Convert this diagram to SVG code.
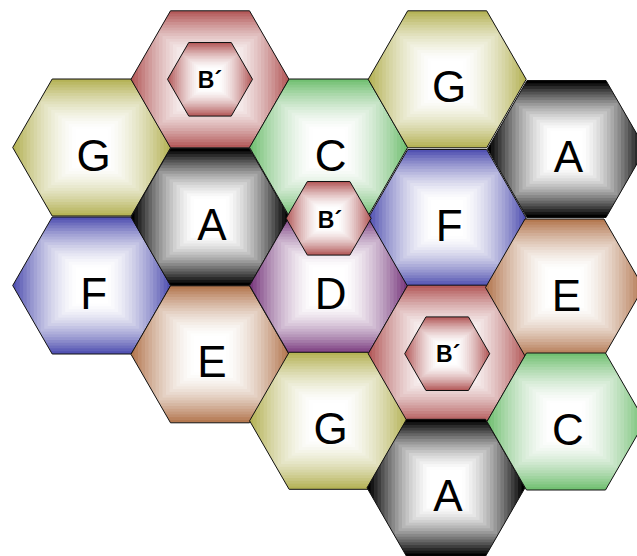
<svg xmlns="http://www.w3.org/2000/svg" width="637" height="556" viewBox="0 0 637 556">
<style>
.ol{fill:none;stroke:#111;stroke-width:1;}
.lbl{font-family:"Liberation Sans",Arial,sans-serif;font-size:44px;text-anchor:middle;fill:#000;}
.lblb{font-family:"Liberation Sans",Arial,sans-serif;font-size:23px;font-weight:bold;text-anchor:middle;fill:#000;}
.cA{fill:#000000;}
.cB{fill:#b45a5a;}
.cC{fill:#72c072;}
.cD{fill:#7a3a7e;}
.cE{fill:#b47850;}
.cF{fill:#5252b2;}
.cG{fill:#b5b357;}
</style>
<defs>
<polygon id="hexL" points="-79,0 -39.5,-68.5 39.5,-68.5 79,0 39.5,68.5 -39.5,68.5"/>
<polygon id="hexS" points="-42.5,0 -21.25,-36.8 21.25,-36.8 42.5,0 21.25,36.8 -21.25,36.8"/>
<clipPath id="clipL"><use href="#hexL"/></clipPath>
<clipPath id="clipS"><use href="#hexS"/></clipPath>
<g id="rings" fill="#ffffff">
<rect x="-75.5" y="-65.7" width="151" height="131.4" fill-opacity="0.0874"/>
<rect x="-72" y="-62.9" width="144" height="125.8" fill-opacity="0.0924"/>
<rect x="-68.5" y="-60.1" width="137" height="120.2" fill-opacity="0.0981"/>
<rect x="-65" y="-57.3" width="130" height="114.6" fill-opacity="0.1045"/>
<rect x="-61.5" y="-54.5" width="123" height="109" fill-opacity="0.1118"/>
<rect x="-58" y="-51.7" width="116" height="103.4" fill-opacity="0.1202"/>
<rect x="-54.5" y="-48.9" width="109" height="97.8" fill-opacity="0.13"/>
<rect x="-51" y="-46.1" width="102" height="92.2" fill-opacity="0.1414"/>
<rect x="-47.5" y="-43.3" width="95" height="86.6" fill-opacity="0.1551"/>
<rect x="-44" y="-40.5" width="88" height="81" fill-opacity="0.1718"/>
<rect x="-40.5" y="-37.7" width="81" height="75.4" fill-opacity="0.1924"/>
<rect x="-37" y="-34.9" width="74" height="69.8" fill-opacity="0.2186"/>
<rect x="-33.5" y="-32.1" width="67" height="64.2" fill-opacity="0.253"/>
<rect x="-30" y="-29.3" width="60" height="58.6" fill-opacity="0.3002"/>
<rect x="-26.5" y="-26.5" width="53" height="53" fill-opacity="0.3689"/>
<rect x="-23" y="-23.7" width="46" height="47.4" fill-opacity="0.4773"/>
<rect x="-19.5" y="-20.9" width="39" height="41.8" fill-opacity="0.6701"/>
<rect x="-16" y="-18.1" width="32" height="36.2" fill-opacity="1"/>
</g>
</defs>

<g id="connectors"/>

<g id="cell-G-1" transform="translate(91.7,147.5)">
<use href="#hexL" class="cG"/><g clip-path="url(#clipL)"><use href="#rings"/></g><use href="#hexL" class="ol"/>
<text class="lbl" x="2" y="23">G</text></g>

<g id="cell-F-1" transform="translate(91.7,285.5)">
<use href="#hexL" class="cF"/><g clip-path="url(#clipL)"><use href="#rings"/></g><use href="#hexL" class="ol"/>
<text class="lbl" x="2" y="23">F</text></g>

<g id="cell-B-1" transform="translate(210,79.3)">
<use href="#hexL" class="cB"/><g clip-path="url(#clipL)"><use href="#rings"/></g><use href="#hexL" class="ol"/>
<use href="#hexS" class="cB"/><g clip-path="url(#clipS)"><use href="#rings" transform="scale(0.538)"/></g><use href="#hexS" class="ol"/>
<text class="lblb" x="0" y="8.5">B´</text></g>

<g id="cell-A-1" transform="translate(210,217)">
<use href="#hexL" class="cA"/><g clip-path="url(#clipL)"><use href="#rings"/></g><use href="#hexL" class="ol"/>
<text class="lbl" x="2" y="23">A</text></g>

<g id="cell-E-1" transform="translate(210,354.3)">
<use href="#hexL" class="cE"/><g clip-path="url(#clipL)"><use href="#rings"/></g><use href="#hexL" class="ol"/>
<text class="lbl" x="2" y="23">E</text></g>

<g id="cell-C-1" transform="translate(328.6,147.5)">
<use href="#hexL" class="cC"/><g clip-path="url(#clipL)"><use href="#rings"/></g><use href="#hexL" class="ol"/>
<text class="lbl" x="2" y="23">C</text></g>

<g id="cell-D" transform="translate(328.6,285.5)">
<use href="#hexL" class="cD"/><g clip-path="url(#clipL)"><use href="#rings"/></g><use href="#hexL" class="ol"/>
<text class="lbl" x="2" y="23">D</text></g>

<g id="cell-G-2" transform="translate(328.6,420.8)">
<use href="#hexL" class="cG"/><g clip-path="url(#clipL)"><use href="#rings"/></g><use href="#hexL" class="ol"/>
<text class="lbl" x="2" y="23">G</text></g>

<g id="cell-G-3" transform="translate(447.2,79.3)">
<use href="#hexL" class="cG"/><g clip-path="url(#clipL)"><use href="#rings"/></g><use href="#hexL" class="ol"/>
<text class="lbl" x="2" y="23">G</text></g>

<g id="cell-F-2" transform="translate(447.2,218)">
<use href="#hexL" class="cF"/><g clip-path="url(#clipL)"><use href="#rings"/></g><use href="#hexL" class="ol"/>
<text class="lbl" x="2" y="23">F</text></g>

<g id="cell-B-2" transform="translate(447.2,353.7)">
<use href="#hexL" class="cB"/><g clip-path="url(#clipL)"><use href="#rings"/></g><use href="#hexL" class="ol"/>
<use href="#hexS" class="cB"/><g clip-path="url(#clipS)"><use href="#rings" transform="scale(0.538)"/></g><use href="#hexS" class="ol"/>
<text class="lblb" x="1" y="8.5">B´</text></g>

<g id="cell-A-3" transform="translate(446,487.8)">
<use href="#hexL" class="cA"/><g clip-path="url(#clipL)"><use href="#rings"/></g><use href="#hexL" class="ol"/>
<text class="lbl" x="2" y="23">A</text></g>

<g id="cell-A-2" transform="translate(566.5,149)">
<use href="#hexL" class="cA"/><g clip-path="url(#clipL)"><use href="#rings"/></g><use href="#hexL" class="ol"/>
<text class="lbl" x="2" y="23">A</text></g>

<g id="cell-E-2" transform="translate(564.5,287.5)">
<use href="#hexL" class="cE"/><g clip-path="url(#clipL)"><use href="#rings"/></g><use href="#hexL" class="ol"/>
<text class="lbl" x="2" y="23">E</text></g>

<g id="cell-C-2" transform="translate(566,421.5)">
<use href="#hexL" class="cC"/><g clip-path="url(#clipL)"><use href="#rings"/></g><use href="#hexL" class="ol"/>
<text class="lbl" x="2" y="23">C</text></g>

<g id="cell-B-3" transform="translate(328.6,218.3)">
<use href="#hexS" class="cB"/><g clip-path="url(#clipS)"><use href="#rings" transform="scale(0.538)"/></g><use href="#hexS" class="ol"/>
<text class="lblb" x="1.4" y="10">B´</text></g>
</svg>
